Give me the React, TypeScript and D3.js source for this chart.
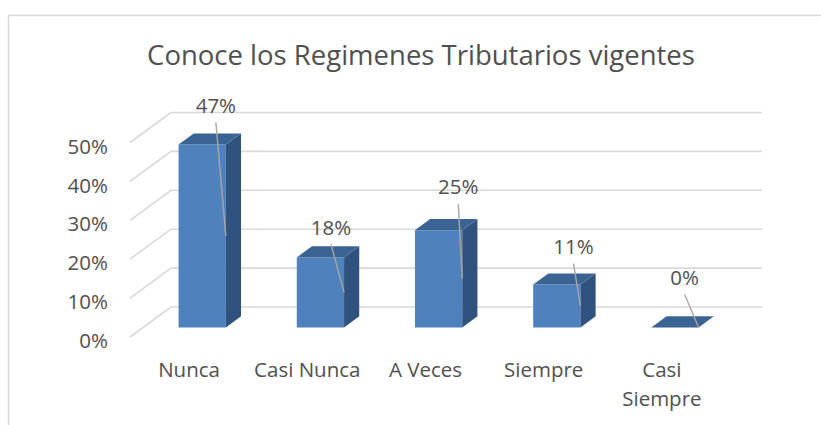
import * as d3 from "d3";

// chart data
const categories = ["Nunca", "Casi Nunca", "A Veces", "Siempre", "Casi Siempre"];
const values = [0.47, 0.18, 0.25, 0.11, 0.0];
const yTicks = [0, 0.1, 0.2, 0.3, 0.4, 0.5];
const title = "Conoce los Regimenes Tributarios vigentes";

// data labels were dragged by hand in the original, so each one gets a small nudge
const labelNudge = [
  [-10, -39],
  [-13, -30],
  [-4, -43],
  [-7, -38],
  [-14, -50],
];

const W = 821;
const H = 425;
const FONT = "'Open Sans', sans-serif";
const TEXT = "#505050";

export default function App() {
  // oblique 3d: depth vector of the floor
  const DX = 41;
  const DY = 30;
  const d1 = 0.32; // bar front depth
  const d2 = 0.69; // bar back depth

  const x = d3.scaleBand<string>().domain(categories).range([130, 721]).padding(0);
  const y = d3.scaleLinear().domain([0, 0.5]).range([307, 112.5]);

  const px = (xf: number, d: number) => xf + d * DX;
  const py = (v: number, d: number) => y(v) + (1 - d) * DY;

  const bw = x.bandwidth() * 0.4;
  const fmt = d3.format(".0%");

  const wrap = (s: string) => (s.length > 10 ? s.split(" ") : [s]);

  return (
    <svg width={W} height={H} style={{ position: "fixed", left: 0, top: 0, background: "#fff" }}>
      <rect x={8.5} y={15.5} width={840} height={440} fill="#fff" stroke="#d9d9d9" strokeWidth={1.5} />

      <text x={421} y={65} textAnchor="middle" fontFamily={FONT} fontSize={27.5} fill={TEXT}>
        {title}
      </text>

      {/* gridlines: side wall + back wall */}
      {yTicks.map((t) => (
        <path
          key={t}
          d={`M${px(130, 0)},${py(t, 0)}L${px(130, 1)},${py(t, 1)}L${762},${py(t, 1)}`}
          fill="none"
          stroke="#d9d9d9"
          strokeWidth={1.6}
        />
      ))}

      {yTicks.map((t) => (
        <text
          key={t}
          x={108}
          y={py(t, 0) + 4}
          dy="0.35em"
          textAnchor="end"
          fontFamily={FONT}
          fontSize={20.5}
          fill={TEXT}
        >
          {fmt(t)}
        </text>
      ))}

      {categories.map((c, i) => {
        const v = values[i];
        const x0 = x(c)! + x.bandwidth() * 0.3;
        const x1 = x0 + bw;
        const front = `M${px(x0, d1)},${py(v, d1)}L${px(x1, d1)},${py(v, d1)}L${px(x1, d1)},${py(0, d1)}L${px(x0, d1)},${py(0, d1)}Z`;
        const side = `M${px(x1, d1)},${py(v, d1)}L${px(x1, d2)},${py(v, d2)}L${px(x1, d2)},${py(0, d2)}L${px(x1, d1)},${py(0, d1)}Z`;
        const top = `M${px(x0, d1)},${py(v, d1)}L${px(x1, d1)},${py(v, d1)}L${px(x1, d2)},${py(v, d2)}L${px(x0, d2)},${py(v, d2)}Z`;
        return (
          <g key={c}>
            <path d={front} fill="#4f81bd" />
            <path d={side} fill="#30527f" />
            <path d={top} fill="#3b6494" />
          </g>
        );
      })}

      {categories.map((c, i) => {
        const v = values[i];
        const x1 = x(c)! + x.bandwidth() * 0.3 + bw;
        const rx = px(x1, d1);
        const topY = py(v, d1);
        const midY = (topY + py(0, d1)) / 2;
        const cx = rx + labelNudge[i][0];
        const cy = topY + labelNudge[i][1];
        return (
          <g key={c}>
            <line x1={cx} y1={cy + 17} x2={rx} y2={midY} stroke="#a6a6a6" strokeWidth={1.4} />
            <text x={cx} y={cy} dy="0.35em" textAnchor="middle" fontFamily={FONT} fontSize={20.5} fill={TEXT}>
              {fmt(v)}
            </text>
          </g>
        );
      })}

      {categories.map((c) => (
        <text
          key={c}
          x={x(c)! + x.bandwidth() / 2}
          y={377}
          textAnchor="middle"
          fontFamily={FONT}
          fontSize={20.5}
          fill={TEXT}
        >
          {wrap(c).map((s, j) => (
            <tspan key={j} x={x(c)! + x.bandwidth() / 2} dy={j === 0 ? 0 : 29}>
              {s}
            </tspan>
          ))}
        </text>
      ))}
    </svg>
  );
}
